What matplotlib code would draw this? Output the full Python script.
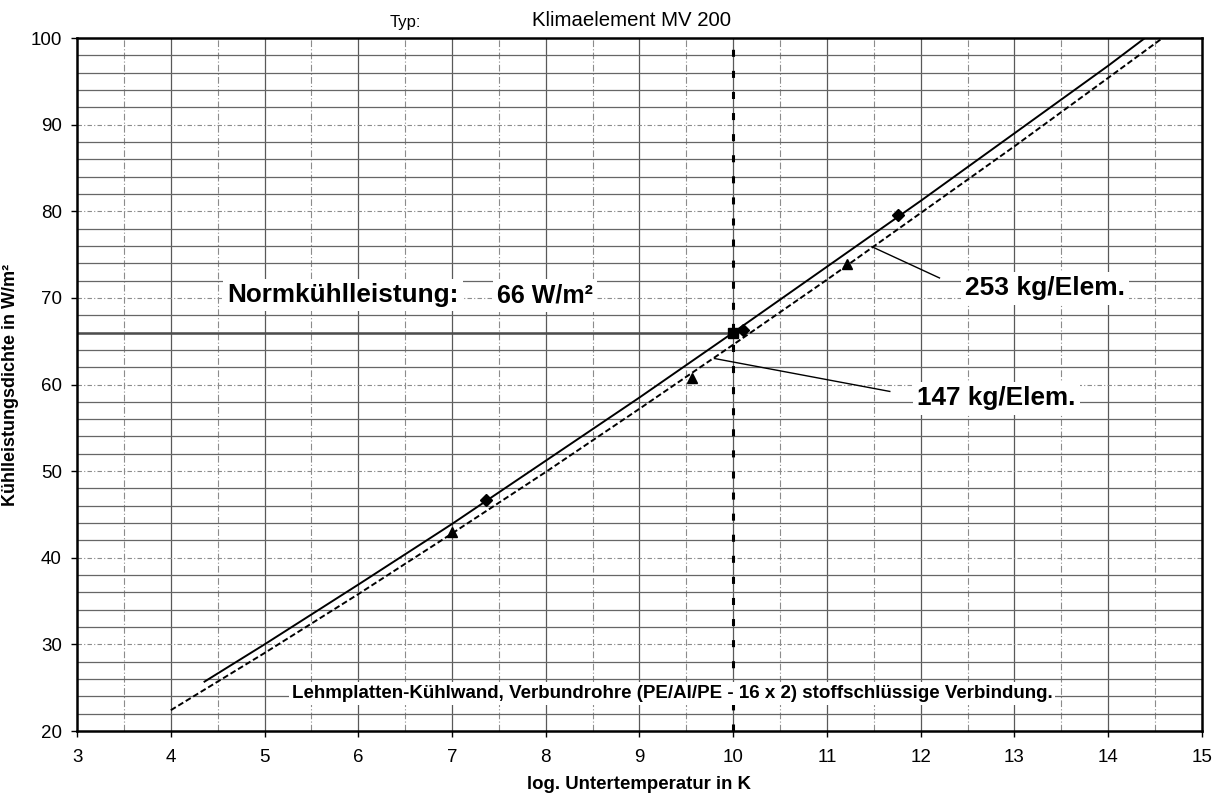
import numpy as np
import matplotlib
matplotlib.use("Agg")
import matplotlib.pyplot as plt

plt.rcParams["font.family"] = ["Liberation Sans", "DejaVu Sans"]

# points
x_253 = [4.36, 5, 6, 7, 8, 9, 10, 11, 12, 13, 14, 14.38]
y_253 = [25.7, 30.0, 36.9, 43.9, 51.2, 58.5, 66.0, 73.6, 81.2, 89.0, 96.8, 99.9]
x_147 = [4.0, 5, 6, 7, 8, 9, 10, 11, 12, 13, 14, 14.58]
y_147 = [22.4, 29.0, 35.8, 42.8, 49.9, 57.2, 64.6, 72.1, 79.8, 87.5, 95.4, 100.0]

# measured points
mx_253 = [7.36, 10.1, 11.76]
my_253 = [46.7, 66.3, 79.6]
mx_147 = [7.0, 9.56, 11.21]
my_147 = [43.0, 60.8, 73.9]

norm_x = 10.0
norm_y = 66.0

x_ticks = list(range(3, 16))
y_ticks = list(range(20, 101, 10))

fig = plt.figure(figsize=(12.21, 7.95), dpi=100)
ax = fig.add_axes([0.0631, 0.0805, 0.9213, 0.8717])
ax.set_xlim(3, 15)
ax.set_ylim(20, 100)

# grid, drawn by hand to get the scanned look
for gx in np.arange(3.5, 15, 0.5):
    if gx == int(gx):
        ax.axvline(gx, color="0.35", lw=0.9, zorder=1)
    else:
        ax.axvline(gx, color="0.55", lw=0.8, ls=(0, (6, 2, 1, 2)), zorder=1)
for gy in range(22, 100, 2):
    if gy % 10 == 0:
        ax.axhline(gy, color="0.55", lw=0.8, ls=(0, (4, 2, 1, 2)), zorder=1)
    else:
        ax.axhline(gy, color="0.4", lw=0.9, zorder=1)

ax.plot([3, norm_x], [norm_y, norm_y], color="0.3", lw=1.8, zorder=2)
ax.plot([norm_x, norm_x], [20, 100], color="black", lw=2.2,
        dashes=(2.3, 4.6), zorder=3)

ax.plot(x_253, y_253, color="black", lw=1.4, zorder=4)
ax.plot(x_147, y_147, color="black", lw=1.4, dashes=(3, 1.5), zorder=4)
ax.plot(mx_253, my_253, ls="none", marker="D", ms=6, color="black", zorder=5)
ax.plot(mx_147, my_147, ls="none", marker="^", ms=7, color="black", zorder=5)
ax.plot([norm_x], [norm_y], ls="none", marker="s", ms=7, color="black", zorder=5)

box = dict(facecolor="white", edgecolor="none", pad=3)
bold = dict(fontweight="bold", color="black")

ax.text(4.6, 70.3, "Normkühlleistung:", fontsize=18.8, va="center", ha="left",
        bbox=box, zorder=6, **bold)
ax.text(7.48, 70.3, "66 W/m²", fontsize=18, va="center", ha="left",
        bbox=box, zorder=6, **bold)

ax.plot([11.48, 12.2], [75.9, 72.3], color="black", lw=1.0, zorder=6)
ax.text(12.47, 71.1, "253 kg/Elem.", fontsize=19, va="center", ha="left",
        bbox=box, zorder=6, **bold)
ax.plot([9.8, 11.67], [63.0, 59.2], color="black", lw=1.0, zorder=6)
ax.text(11.96, 58.4, "147 kg/Elem.", fontsize=18.8, va="center", ha="left",
        bbox=box, zorder=6, **bold)

ax.text(9.35, 24.3,
        "Lehmplatten-Kühlwand, Verbundrohre (PE/Al/PE - 16 x 2) stoffschlüssige Verbindung.",
        fontsize=13.5, va="center", ha="center", bbox=dict(facecolor="white", edgecolor="none", pad=2),
        zorder=6, **bold)

ax.set_xticks(x_ticks)
ax.set_yticks(y_ticks)
ax.tick_params(axis="x", labelsize=13.5, length=4, width=1, pad=9)
ax.tick_params(axis="y", labelsize=13.5, length=4, width=1, pad=7)
for s in ax.spines.values():
    s.set_linewidth(1.8)
    s.set_color("black")
    s.set_zorder(7)

ax.set_xlabel("log. Untertemperatur in K", fontsize=13.4, fontweight="bold", labelpad=7)
ax.set_ylabel("Kühlleistungsdichte in W/m²", fontsize=13, fontweight="bold", labelpad=8)

fig.text(390 / 1221, 1 - 22 / 795, "Typ:", fontsize=12, ha="left", va="center")
fig.text(532 / 1221, 1 - 20 / 795, "Klimaelement MV 200", fontsize=14.7,
         ha="left", va="center")

fig.savefig("out.png", dpi=100)
